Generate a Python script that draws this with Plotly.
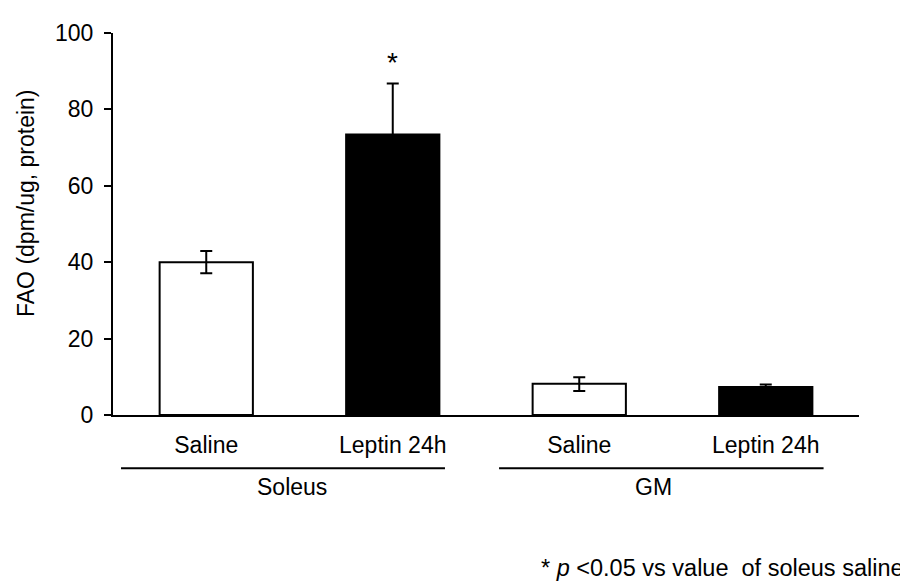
import plotly.graph_objects as go

categories = ["Saline", "Leptin 24h", "Saline", "Leptin 24h"]
groups = ["Soleus", "GM"]
values = [40.0, 73.4, 8.2, 7.3]
err_plus = [2.9, 13.4, 1.7, 0.7]
err_minus = [2.9, 13.4, 1.9, 0.7]
fills = ["white", "black", "white", "black"]
yticks = [0, 20, 40, 60, 80, 100]

FONT = "Liberation Sans, Arial, sans-serif"
FS = 23
xs = list(range(len(categories)))

fig = go.Figure()
fig.add_trace(go.Bar(
    x=xs, y=values, width=0.5,
    marker=dict(color=fills, line=dict(color="black", width=2)),
    error_y=dict(type="data", array=err_plus, arrayminus=err_minus,
                 color="black", thickness=2, width=6),
    showlegend=False,
))

# significance star
fig.add_annotation(x=1, y=92.3, yanchor="middle", text="*",
                   showarrow=False, font=dict(size=28, color="black", family=FONT))

# group brackets and labels
group_spans = [(-0.457, 1.28), (1.57, 3.31)]
group_centers = [0.46, 2.40]
for (x0, x1), cx, g in zip(group_spans, group_centers, groups):
    fig.add_shape(type="line", xref="x", yref="paper", x0=x0, x1=x1,
                  y0=-0.1395, y1=-0.1395, line=dict(color="black", width=2))
    fig.add_annotation(x=cx, xref="x", y=-0.189, yref="paper", yanchor="middle",
                       text=g, showarrow=False,
                       font=dict(size=FS, color="black", family=FONT))

# y-axis title
fig.add_annotation(x=-0.1166, xref="paper", y=0.555, yref="paper",
                   xanchor="center", yanchor="middle", textangle=-90,
                   text="FAO (dpm/ug, protein)", showarrow=False,
                   font=dict(size=FS, color="black", family=FONT))

# footnote
fig.add_annotation(x=1.0625, xref="paper", y=-0.40, yref="paper",
                   xanchor="right", yanchor="middle",
                   text="* <i>p</i> <0.05 vs value  of soleus saline",
                   showarrow=False, font=dict(size=23.5, color="black", family=FONT))

fig.update_layout(
    width=900, height=575,
    margin=dict(l=105, r=49, t=20, b=168),
    plot_bgcolor="white", paper_bgcolor="white",
    font=dict(family=FONT, size=FS, color="black"),
)
fig.update_xaxes(
    range=[-0.5, 3.5], tickvals=xs, ticktext=categories,
    showline=True, linecolor="black", linewidth=2, ticks="",
    showgrid=False, zeroline=False, ticklabelstandoff=8,
    tickfont=dict(size=FS, family=FONT),
)
fig.update_yaxes(
    range=[0, 100], tickvals=yticks, showline=True, linecolor="black", linewidth=2,
    ticks="outside", ticklen=7, tickwidth=2, tickcolor="black",
    showgrid=False, zeroline=False, ticklabelstandoff=6,
    tickfont=dict(size=FS, family=FONT),
)

fig.write_html("out.html")
